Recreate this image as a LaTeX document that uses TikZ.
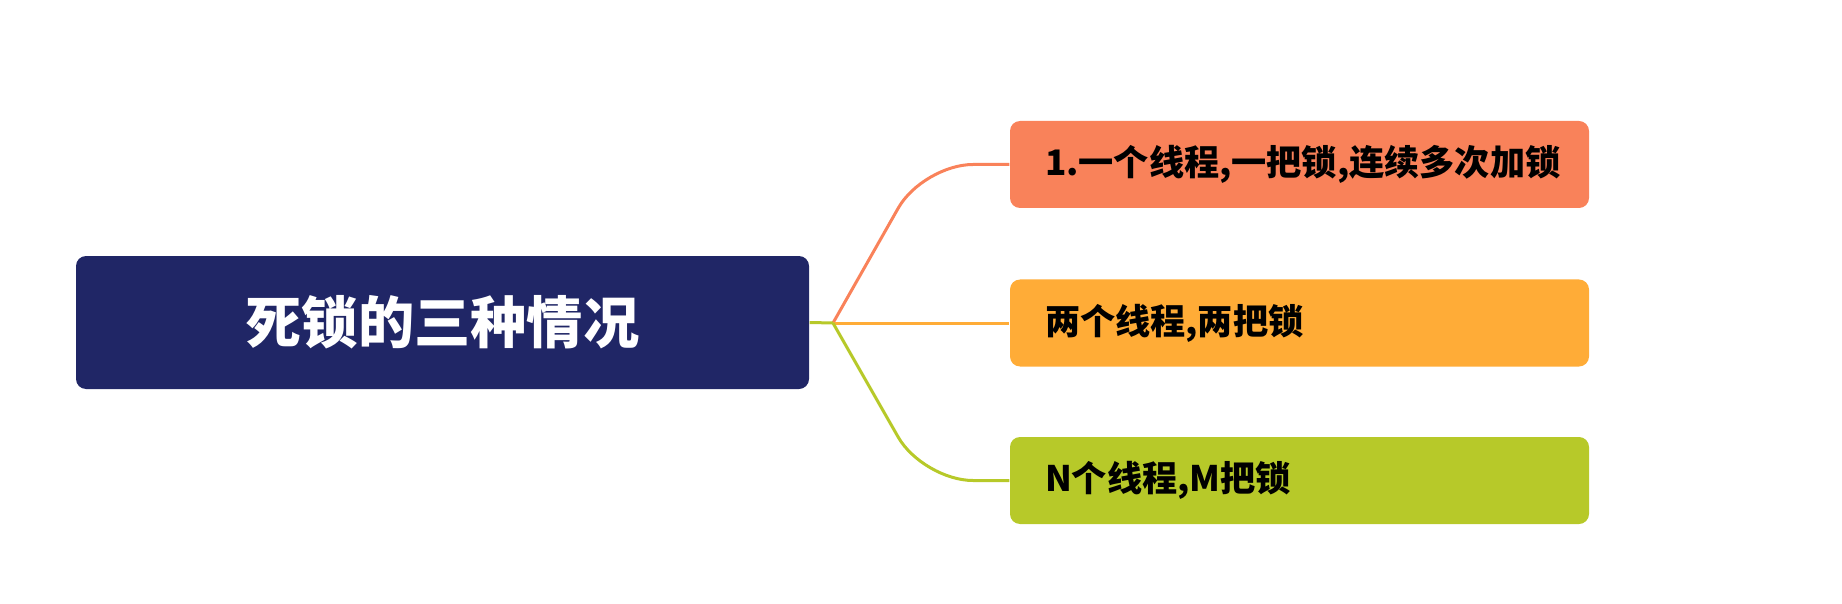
\documentclass[tikz,border=0pt]{standalone}
\usepackage{fontspec}
\newfontfamily\cjk{Noto Sans CJK SC}
\usepackage{tikz}
\usetikzlibrary{positioning, calc}
\definecolor{rootblue}{RGB}{32,38,102}
\definecolor{brorange}{RGB}{249,130,90}
\definecolor{bryellow}{RGB}{255,172,55}
\definecolor{brgreen}{RGB}{183,201,41}
\tikzset{
  topic/.style   = {rectangle, rounded corners=1mm, minimum width=73.3mm,
                    minimum height=13.3mm, inner sep=0pt, text=white,
                    font=\cjk\bfseries\fontsize{16}{18}\selectfont},
  branch/.style  = {rectangle, rounded corners=1mm, text width=50.9mm,
                    inner xsep=3.5mm, inner ysep=0pt, minimum height=8.7mm,
                    align=left, font=\cjk\bfseries\fontsize{10}{12}\selectfont},
  link/.style    = {line width=0.3mm, rounded corners=5mm},
}
\begin{document}
\begin{tikzpicture}
  \useasboundingbox (0,0) rectangle (18.42,6.03);
  % ---- central topic
  \node[topic, fill=rootblue] (root) at (4.425,2.805) {死锁的三种情况};
  % ---- the three cases
  \node[branch, fill=brorange] (b1) at (12.995,4.385) {1.一个线程,一把锁,连续多次加锁};
  \node[branch, fill=bryellow] (b2) at (12.995,2.80) {两个线程,两把锁};
  \node[branch, fill=brgreen] (b3) at (12.995,1.225) {N个线程,M把锁};
  % ---- connectors
  \coordinate (j) at (8.33,2.80);
  \draw[link, brorange] (j) -- ($(j)+(0.9,1.585)$) -- (b1.west);
  \draw[link, bryellow] (j) -- (b2.west);
  \draw[link, brgreen] (j) -- ($(j)+(0.9,-1.575)$) -- (b3.west);
  \draw[link, brgreen] (root.east) -- (j);
\end{tikzpicture}
\end{document}
